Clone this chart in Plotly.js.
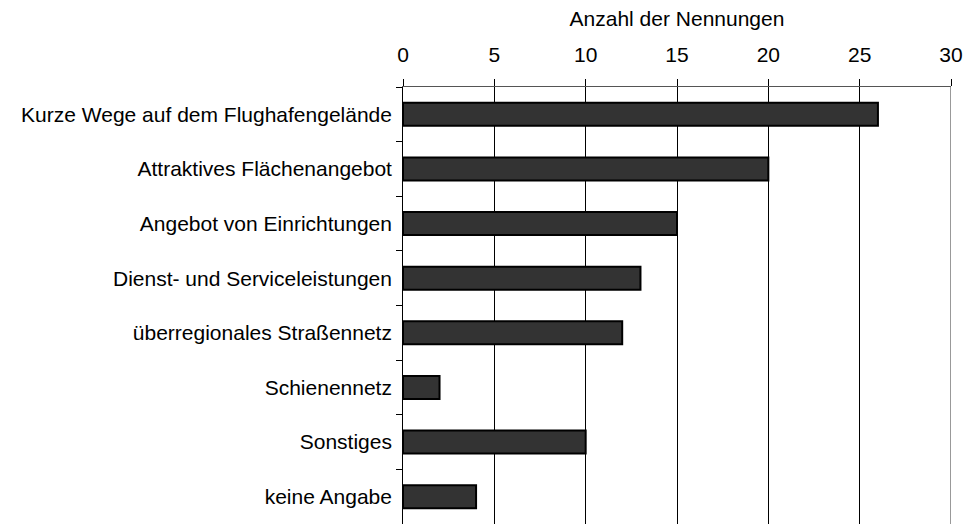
<!DOCTYPE html>
<html><head><meta charset="utf-8">
<script src="https://cdn.plot.ly/plotly-3.0.1.min.js"></script>
<style>html,body{margin:0;padding:0;background:#fff}</style>
</head><body>
<div id="chart" style="width:967px;height:524px"></div>
<script>
const categories = ["Kurze Wege auf dem Flughafengelände","Attraktives Flächenangebot","Angebot von Einrichtungen","Dienst- und Serviceleistungen","überregionales Straßennetz","Schienennetz","Sonstiges","keine Angabe"];
const values = [26, 20, 15, 13, 12, 2, 10, 4];
const xTicks = [0, 5, 10, 15, 20, 25, 30];
const axisTitle = "Anzahl der Nennungen";

const font = {family: "Liberation Sans, Arial, sans-serif", size: 21, color: "#000"};
Plotly.newPlot("chart", [{
  type: "bar", orientation: "h", x: values, y: categories,
  marker: {color: "#333333", line: {color: "#000", width: 2}},
  hoverinfo: "none"
}], {
  width: 967, height: 524,
  margin: {l: 403, r: 16, t: 87, b: 0},
  paper_bgcolor: "#fff", plot_bgcolor: "#fff",
  font: font,
  bargap: 0.58,
  showlegend: false,
  xaxis: {
    side: "top", range: [0, 30], tickvals: xTicks, ticktext: xTicks.map(String),
    showgrid: true, gridcolor: "#000", gridwidth: 1,
    showline: true, linecolor: "#555", linewidth: 1,
    ticks: "outside", ticklen: 7, tickcolor: "#000",
    ticklabelstandoff: 9,
    zeroline: false, fixedrange: true,
    title: {text: axisTitle, font: font, standoff: 10},
    tickfont: font
  },
  yaxis: {
    type: "category", autorange: "reversed",
    showline: true, linecolor: "#000", linewidth: 1,
    ticks: "outside", tickson: "boundaries", ticklen: 6, tickcolor: "#000",
    showgrid: false, zeroline: false, fixedrange: true,
    tickfont: font, ticksuffix: " "
  },
  shapes: [{type: "line", xref: "x", yref: "paper", x0: 30, x1: 30, y0: 0, y1: 1, line: {color: "#999", width: 2}}]
}, {displayModeBar: false, staticPlot: true});
</script>
</body></html>
